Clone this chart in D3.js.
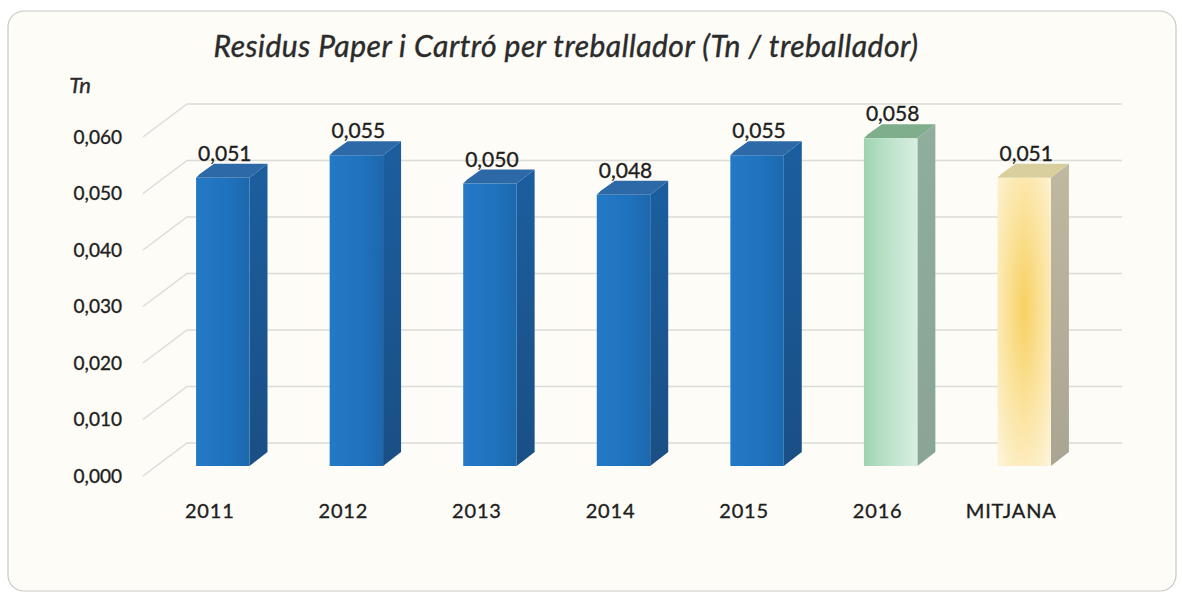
<!DOCTYPE html>
<html>
<head>
<meta charset="utf-8">
<script src="https://cdn.jsdelivr.net/npm/d3@7/dist/d3.min.js"></script>
<style>
  body { margin: 0; background: #ffffff; }
  svg { display: block; }
</style>
</head>
<body>
<div id="chart"></div>
<script>
// Chart data
var categories = ["2011", "2012", "2013", "2014", "2015", "2016", "MITJANA"];
var values = [0.051, 0.055, 0.050, 0.048, 0.055, 0.058, 0.051];
var barKinds = ["blue", "blue", "blue", "blue", "blue", "green", "yellow"];
var yTicks = [0, 0.01, 0.02, 0.03, 0.04, 0.05, 0.06];

var width = 1182, height = 597;
var depthX = 44, depthY = -33;      // floor depth (front -> back wall)
var barOffX = 13, barOffY = -10;    // bar front face inside the floor
var barDX = 18, barDY = -14;        // bar own depth
var font = "Lato, 'Open Sans', sans-serif";

var fmt = function(v) { return d3.format(".3f")(v).replace(".", ","); };

var svg = d3.select("#chart").append("svg")
    .attr("width", width)
    .attr("height", height);

var defs = svg.append("defs");

function linGrad(id, stops, x2, y2) {
  var g = defs.append("linearGradient").attr("id", id)
      .attr("x1", 0).attr("y1", 0).attr("x2", x2).attr("y2", y2);
  stops.forEach(function(s) {
    g.append("stop").attr("offset", s[0]).attr("stop-color", s[1]);
  });
}
linGrad("blueFront", [[0, "#2479c6"], [0.6, "#1f72bd"], [1, "#1c68ad"]], 1, 0);
linGrad("blueSide", [[0, "#1b5e9f"], [1, "#1a4f85"]], 0, 1);
linGrad("greenFront", [[0, "#9fd4b0"], [0.5, "#bfe3cc"], [1, "#d7eee0"]], 1, 0);
linGrad("greenSide", [[0, "#8fae9c"], [1, "#8aa496"]], 0, 1);
var yr = defs.append("radialGradient").attr("id", "yellowFront")
    .attr("cx", 0.5).attr("cy", 0.45).attr("r", 0.7);
yr.append("stop").attr("offset", 0).attr("stop-color", "#f7d162");
yr.append("stop").attr("offset", 0.55).attr("stop-color", "#fbe5a4");
yr.append("stop").attr("offset", 1).attr("stop-color", "#fdf3d6");
linGrad("yellowSide", [[0, "#c0b8a0"], [1, "#aaa493"]], 0, 1);

var palette = {
  blue:   { front: "url(#blueFront)", side: "url(#blueSide)", top: "#2c69a6" },
  green:  { front: "url(#greenFront)", side: "url(#greenSide)", top: "#7fae8c" },
  yellow: { front: "url(#yellowFront)", side: "url(#yellowSide)", top: "#d9cf9e" }
};

// background card
svg.append("rect")
    .attr("x", 0).attr("y", 0).attr("width", width).attr("height", height)
    .attr("fill", "#ffffff");
svg.append("rect")
    .attr("x", 8).attr("y", 11).attr("width", 1168).attr("height", 580)
    .attr("rx", 16).attr("ry", 16)
    .attr("fill", "#fdfcf7")
    .attr("stroke", "#c9c9c6").attr("stroke-width", 1.2);

// scales (front edge of the floor)
var x = d3.scaleBand()
    .domain(categories)
    .range([143, 1078])
    .paddingInner(0.6)
    .paddingOuter(0.3);

var y = d3.scaleLinear()
    .domain([0, 0.06])
    .range([476, 137]);

// gridlines: short diagonal at the side wall, then along the back wall
var grid = svg.append("g");
yTicks.forEach(function(t) {
  var yf = y(t);
  grid.append("path")
      .attr("d", "M" + 143 + "," + yf +
                 "L" + (143 + depthX) + "," + (yf + depthY) +
                 "L" + (x.range()[1] + depthX) + "," + (yf + depthY))
      .attr("fill", "none")
      .attr("stroke", "#dcdcd8")
      .attr("stroke-width", 1.5);
});

// y tick labels
svg.append("g").selectAll("text")
    .data(yTicks)
  .enter().append("text")
    .attr("x", 122)
    .attr("y", function(d) { return y(d); })
    .attr("dy", "0.36em")
    .attr("text-anchor", "end")
    .attr("font-family", font)
    .attr("font-size", 19)
    .attr("fill", "#1e1e1e")
    .attr("stroke", "#1e1e1e").attr("stroke-width", 0.35)
    .text(fmt);

// bars
var bars = svg.append("g").selectAll("g")
    .data(categories)
  .enter().append("g");

bars.each(function(c, i) {
  var g = d3.select(this);
  var col = palette[barKinds[i]];
  var x0 = x(c) + barOffX, w = x.bandwidth();
  var yt = y(values[i]) + barOffY, yb = y(0) + barOffY;

  g.append("path")
      .attr("d", "M" + (x0 + w) + "," + yt +
                 "L" + (x0 + w + barDX) + "," + (yt + barDY) +
                 "L" + (x0 + w + barDX) + "," + (yb + barDY) +
                 "L" + (x0 + w) + "," + yb + "Z")
      .attr("fill", col.side);
  g.append("path")
      .attr("d", "M" + x0 + "," + yt +
                 "L" + (x0 + 4) + "," + (yt - 4) +
                 "L" + (x0 + barDX) + "," + (yt + barDY) +
                 "L" + (x0 + w + barDX) + "," + (yt + barDY) +
                 "L" + (x0 + w) + "," + yt + "Z")
      .attr("fill", col.top);
  g.append("rect")
      .attr("x", x0).attr("y", yt)
      .attr("width", w).attr("height", yb - yt)
      .attr("fill", col.front);

  g.append("text")
      .attr("x", x0 + w / 2 + 2)
      .attr("y", yt + barDY - 3)
      .attr("text-anchor", "middle")
      .attr("font-family", font)
      .attr("font-size", 21)
      .attr("fill", "#1e1e1e")
      .attr("stroke", "#1e1e1e").attr("stroke-width", 0.35)
      .text(fmt(values[i]));
});

// category labels
svg.append("g").selectAll("text")
    .data(categories)
  .enter().append("text")
    .attr("x", function(d) { return x(d) + x.bandwidth() / 2; })
    .attr("y", 518)
    .attr("text-anchor", "middle")
    .attr("font-family", font)
    .attr("font-size", 20)
    .attr("letter-spacing", 0.8)
    .attr("fill", "#1e1e1e")
    .attr("stroke", "#1e1e1e").attr("stroke-width", 0.35)
    .text(function(d) { return d; });

// title and unit
svg.append("text")
    .attr("x", 566)
    .attr("y", 57)
    .attr("text-anchor", "middle")
    .attr("font-family", font)
    .attr("font-style", "italic")
    .attr("font-size", 30)
    .attr("letter-spacing", 0.5)
    .attr("fill", "#2b2b2b")
    .attr("stroke", "#2b2b2b").attr("stroke-width", 0.4)
    .text("Residus Paper i Cartró per treballador (Tn / treballador)");

svg.append("text")
    .attr("x", 80)
    .attr("y", 93)
    .attr("text-anchor", "middle")
    .attr("font-family", font)
    .attr("font-style", "italic")
    .attr("font-size", 22)
    .attr("fill", "#2b2b2b")
    .attr("stroke", "#2b2b2b").attr("stroke-width", 0.4)
    .text("Tn");
</script>
</body>
</html>
